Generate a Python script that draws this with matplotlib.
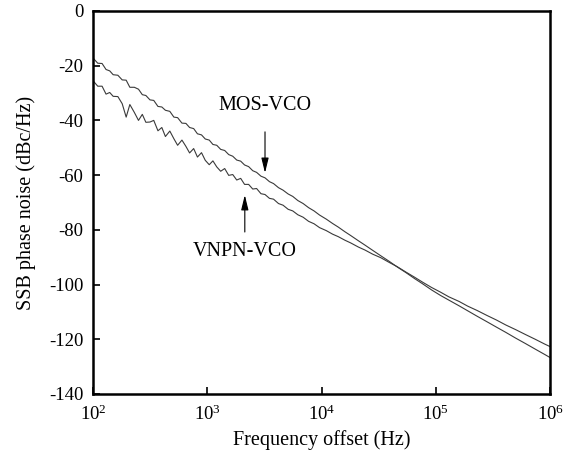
import numpy as np
import matplotlib
matplotlib.use("Agg")
import matplotlib.pyplot as plt

## data
freq = [100, 110, 120, 130, 140, 150, 165, 180, 195, 210, 230, 250, 270, 290,
        315, 340, 370, 400, 430, 470, 510, 550, 600, 650, 700, 760, 820, 890,
        960, 1040, 1120, 1210, 1310, 1420, 1540, 1670, 1810, 1960, 2120, 2300,
        2500, 2700, 2950, 3200, 3500, 3800, 4200, 4600, 5100, 5600, 6200, 6900,
        7700, 8600, 9600, 11000, 12500, 14000, 16000, 18000, 21000, 24000,
        28000, 33000, 39000, 46000, 55000, 65000, 77000, 92000, 110000, 130000,
        160000, 190000, 230000, 280000, 340000, 410000, 500000, 610000, 740000,
        900000, 1000000]

mos_vco = [-17.2, -19.1, -19.2, -21.4, -21.9, -23.3, -23.5, -25.2, -25.3, -27.9,
           -27.9, -28.6, -30.6, -30.9, -32.5, -32.7, -34.9, -35.1, -36.3, -36.7,
           -38.8, -39.0, -41.0, -41.1, -42.6, -43.0, -44.9, -45.3, -46.8, -47.2,
           -48.8, -49.1, -50.6, -51.0, -52.5, -53.1, -54.5, -54.9, -56.3, -56.9,
           -58.4, -59.0, -60.4, -61.0, -62.4, -63.1, -64.6, -65.5, -66.9, -67.8,
           -69.3, -70.4, -71.9, -73.1, -74.6, -76.1, -77.7, -79.0, -80.7, -82.1,
           -84.0, -85.6, -87.5, -89.5, -91.5, -93.6, -95.7, -97.8, -99.8, -102.0,
           -104.0, -105.7, -107.8, -109.6, -111.6, -113.6, -115.6, -117.5, -119.6,
           -121.6, -123.6, -125.6, -126.7]

vnpn_vco = [-25.5, -27.5, -27.5, -30.4, -29.8, -31.2, -31.3, -33.9, -38.8, -34.2,
            -37.1, -40.0, -37.8, -40.7, -40.6, -40.0, -43.8, -42.6, -45.9, -43.9,
            -46.7, -49.1, -47.2, -49.5, -51.9, -50.3, -53.4, -51.8, -54.6, -56.2,
            -54.8, -57.0, -58.6, -57.6, -60.1, -59.8, -61.8, -61.2, -63.4, -63.4,
            -65.1, -64.9, -66.8, -67.1, -68.5, -68.8, -70.4, -71.0, -72.5, -73.1,
            -74.5, -75.4, -76.9, -77.8, -79.2, -80.3, -81.6, -82.5, -83.8, -84.8,
            -86.3, -87.4, -88.9, -90.2, -91.9, -93.5, -95.5, -97.3, -99.2, -101.1,
            -102.8, -104.5, -106.2, -107.9, -109.5, -111.3, -113.0, -114.8, -116.5,
            -118.3, -120.0, -121.8, -122.7]

yticks = [-140, -120, -100, -80, -60, -40, -20, 0]

## style
plt.rcParams["font.family"] = ["Liberation Serif", "DejaVu Serif"]
plt.rcParams["mathtext.fontset"] = "stix"
plt.rcParams["axes.unicode_minus"] = False
fs_tick = 13.5
fs_lab = 14.5

fig = plt.figure(figsize=(5.76, 4.57), dpi=100)
ax = fig.add_axes([0.1615, 0.138, 0.7935, 0.838])

ax.plot(freq, mos_vco, color="#3a3a3a", lw=0.8)
ax.plot(freq, vnpn_vco, color="#3a3a3a", lw=0.8)

ax.set_xscale("log")
ax.set_xlim(1e2, 1e6)
ax.set_ylim(-140, 0)
ax.set_yticks(yticks)
ax.minorticks_off()
ax.tick_params(direction="in", length=5, width=1.2, labelsize=fs_tick,
               top=False, right=False)
ax.tick_params(axis="x", pad=8)
ax.tick_params(axis="y", pad=7)
for s in ax.spines.values():
    s.set_linewidth(1.8)

ax.set_xlabel("Frequency offset (Hz)", fontsize=fs_lab, labelpad=4)
ax.set_ylabel("SSB phase noise (dBc/Hz)", fontsize=fs_lab, labelpad=9)

# annotations
arrow = dict(arrowstyle="-|>,head_length=0.9,head_width=0.22", color="black",
             lw=0.8, shrinkA=0, shrinkB=0)
ax.text(3200, -34.4, "MOS-VCO", fontsize=fs_lab, ha="center", va="center")
ax.annotate("", xy=(3200, -59.2), xytext=(3200, -44.2), arrowprops=arrow)
ax.text(2130, -88.0, "VNPN-VCO", fontsize=fs_lab, ha="center", va="center")
ax.annotate("", xy=(2130, -67.3), xytext=(2130, -80.8), arrowprops=arrow)

fig.savefig("out.png", dpi=100)
